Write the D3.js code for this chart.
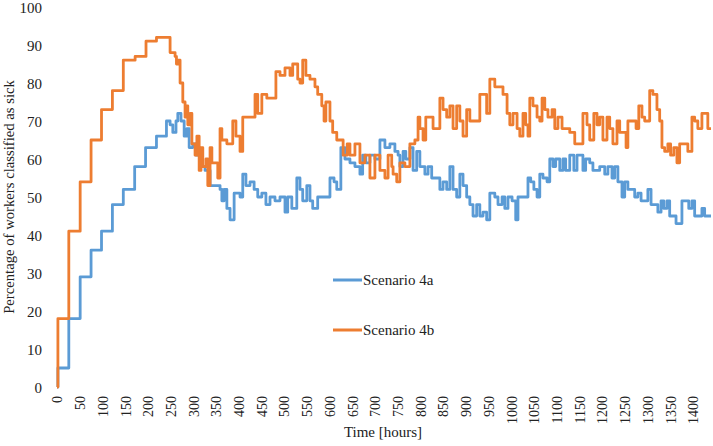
<!DOCTYPE html>
<html><head><meta charset="utf-8">
<script src="https://cdn.jsdelivr.net/npm/d3@7"></script>
<style>
body{margin:0;background:#fff;}
svg text{font-family:"Liberation Serif","Times New Roman","DejaVu Serif",serif !important;fill:#222;}
</style></head>
<body><svg id="chart" width="713" height="446"></svg>
<script>
const seriesNames = ["Scenario 4a", "Scenario 4b"];
const seriesColors = ["#5B9BD5", "#ED7D31"];
const xTicks = d3.range(0, 1401, 50);
const yTicks = d3.range(0, 101, 10);

const hoursA = [0,2,26,51,75,98,122,146,171,195,219,241,249,255,262,266,273,280,286,291,299,306,315,326,337,348,359,363,368,374,381,390,403,409,416,425,434,442,451,460,469,480,491,502,508,517,528,535,541,550,557,563,574,583,601,610,616,625,634,645,656,667,673,680,689,700,711,722,733,744,751,755,762,768,777,784,792,799,810,817,825,836,843,850,858,865,872,880,887,894,902,909,916,924,931,938,946,953,964,971,980,986,993,1002,1010,1015,1026,1037,1043,1050,1057,1063,1070,1079,1085,1092,1098,1107,1114,1120,1129,1138,1145,1151,1158,1164,1173,1180,1189,1195,1202,1206,1213,1222,1228,1235,1244,1250,1257,1266,1272,1279,1286,1294,1301,1308,1316,1323,1330,1336,1343,1349,1356,1363,1371,1376,1385,1391,1398,1404,1411,1420,1426,1440];
const valuesA = [0,5,18,29,36,41,48,52,58,63,66,70,69,67,70,72,70,66,68,63,64,61,58,57,53,53,52,49,52,47,44,51,50,56,53,54,52,50,51,48,50,49,50,46,50,47,55,52,49,53,49,47,50,50,55,54,52,63,60,59,58,56,61,59,61,60,65,63,64,62,61,58,62,60,63,57,62,58,56,58,55,55,52,54,52,58,52,50,56,53,50,48,45,48,45,46,44,51,50,48,50,47,50,49,44,50,50,55,54,52,50,56,55,54,60,58,60,57,60,57,61,57,61,61,57,60,59,57,57,58,58,56,58,55,58,54,50,54,52,52,50,51,49,49,52,48,48,46,49,47,49,45,45,43,43,49,49,47,49,45,45,47,45,45];

const hoursB = [0,2,26,51,75,98,122,146,172,196,219,245,249,260,263,266,271,277,282,284,288,293,297,304,308,313,317,321,328,332,337,341,354,359,363,374,387,394,403,409,436,442,451,462,482,491,502,513,519,530,535,541,548,557,568,574,583,588,592,601,607,616,630,639,645,656,667,678,689,700,711,722,729,737,740,748,755,766,777,788,795,799,806,812,828,843,850,858,865,872,880,887,894,902,909,931,946,953,964,975,982,991,997,1004,1013,1019,1026,1032,1037,1041,1048,1057,1063,1068,1074,1081,1090,1096,1103,1112,1129,1140,1158,1167,1173,1182,1189,1195,1202,1211,1217,1224,1233,1239,1253,1257,1275,1281,1288,1294,1305,1312,1321,1327,1332,1338,1345,1351,1358,1365,1371,1389,1398,1404,1411,1420,1433,1440];
const valuesB = [0,18,41,54,65,73,78,86,87,91,92,92,88,87,85,86,80,75,71,74,69,72,64,61,66,57,63,58,60,53,63,59,55,68,65,64,70,66,62,71,77,72,77,76,83,82,84,82,85,81,80,86,82,81,79,77,74,70,75,70,67,65,61,64,61,64,59,61,55,61,57,55,61,58,56,54,59,58,64,65,71,68,65,71,68,76,73,71,74,68,74,70,66,73,70,77,72,81,79,79,77,72,69,72,68,66,72,69,66,76,74,71,70,76,73,71,73,68,71,68,67,64,72,69,65,72,69,71,65,71,68,64,70,67,63,70,68,74,71,70,78,77,73,70,63,62,64,61,63,59,64,62,71,70,68,72,68,68];

const FONT = "'Liberation Serif', 'Times New Roman', 'DejaVu Serif', serif";
const svg = d3.select("#chart");
const x = d3.scaleLinear().domain([0, 1440]).range([57, 711]);
const y = d3.scaleLinear().domain([0, 100]).range([387, 7]);

// Y axis
const yAxis = svg.append("g").attr("transform", "translate(46,0)")
  .call(d3.axisLeft(y).tickValues(yTicks).tickSize(0).tickPadding(4).tickFormat(d3.format("d")));
yAxis.attr("font-family", null);
yAxis.select(".domain").remove();
yAxis.selectAll("text").style("font-family", FONT).attr("font-size", 15).attr("fill", "#222").attr("dy", "0.35em");

// X axis
const xAxis = svg.append("g").attr("transform", "translate(0,393)")
  .call(d3.axisBottom(x).tickValues(xTicks).tickSize(0).tickPadding(0).tickFormat(d3.format("d")));
xAxis.attr("font-family", null);
xAxis.select(".domain").remove();
xAxis.selectAll("text")
  .style("font-family", FONT).attr("font-size", 14).attr("fill", "#222")
  .attr("transform", "rotate(-90)")
  .attr("text-anchor", "end")
  .attr("x", -3).attr("y", 0).attr("dy", "0.35em");

// Axis titles
svg.append("text").attr("x", 383).attr("y", 437).attr("text-anchor", "middle")
  .style("font-family", FONT).attr("font-size", 15).text("Time [hours]");
svg.append("text").attr("transform", "translate(14,197) rotate(-90)")
  .attr("text-anchor", "middle").style("font-family", FONT).attr("font-size", 14.7)
  .text("Percentage of workers classified as sick");

// Lines
const series = [
  {name: seriesNames[0], color: seriesColors[0], h: hoursA, v: valuesA},
  {name: seriesNames[1], color: seriesColors[1], h: hoursB, v: valuesB}
];
const line = d3.line().curve(d3.curveStepAfter).x(d => x(d[0])).y(d => y(d[1]));
series.forEach(s => {
  const pts = s.h.map((t, i) => [t, s.v[i]]);
  svg.append("path").datum(pts).attr("d", line)
    .attr("fill", "none").attr("stroke", s.color).attr("stroke-width", 2.8)
    .attr("stroke-linejoin", "round");
});

// Legend
const legendY = [280, 330];
series.forEach((s, i) => {
  svg.append("line").attr("x1", 333).attr("x2", 362).attr("y1", legendY[i]).attr("y2", legendY[i])
    .attr("stroke", s.color).attr("stroke-width", 3);
  svg.append("text").attr("x", 363).attr("y", legendY[i]).attr("dy", "0.35em")
    .style("font-family", FONT).attr("font-size", 15).text(s.name);
});
</script></body></html>
